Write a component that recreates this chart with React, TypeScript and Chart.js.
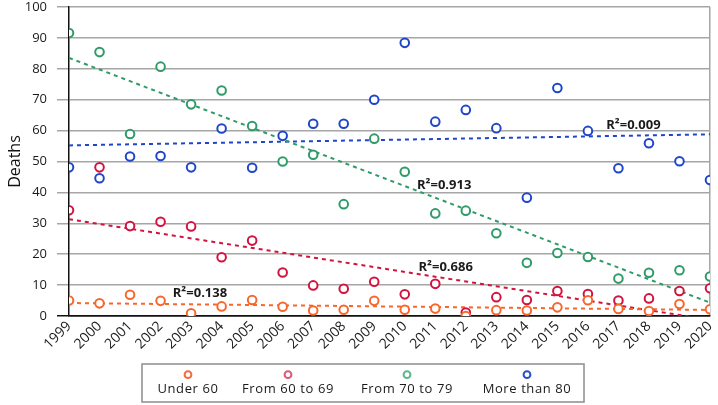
import React, { useEffect, useRef } from "react";
import { Chart, registerables } from "chart.js";

Chart.register(...registerables);

const years = [1999, 2000, 2001, 2002, 2003, 2004, 2005, 2006, 2007, 2008, 2009, 2010, 2011, 2012, 2013, 2014, 2015, 2016, 2017, 2018, 2019, 2020];
const under60 = [5.0, 4.1, 6.9, 4.9, 0.9, 3.1, 5.2, 3.0, 1.8, 2.0, 4.9, 2.0, 2.4, 0.0, 1.9, 1.8, 2.8, 5.1, 2.3, 1.6, 3.9, 2.2];
const from60to69 = [34.2, 48.1, 29.1, 30.5, 29.0, 19.0, 24.4, 14.1, 9.9, 8.8, 11.1, 7.0, 10.4, 1.1, 6.1, 5.2, 8.1, 7.1, 5.0, 5.7, 8.1, 9.0];
const from70to79 = [91.6, 85.4, 58.9, 80.7, 68.5, 73.0, 61.5, 50.0, 52.2, 36.2, 57.4, 46.7, 33.2, 34.1, 26.8, 17.2, 20.4, 19.1, 12.1, 14.0, 14.8, 12.8];
const moreThan80 = [48.1, 44.6, 51.6, 51.8, 48.1, 60.7, 48.0, 58.3, 62.2, 62.2, 70.0, 88.4, 62.9, 66.7, 60.8, 38.3, 73.8, 59.9, 47.8, 55.9, 50.1, 44.0];
const seriesNames = ["Under 60", "From 60 to 69", "From 70 to 79", "More than 80"];
const seriesValues = [under60, from60to69, from70to79, moreThan80];
const seriesColors = ["#f9662c", "#d3123f", "#2e9b68", "#1f46c9"];
const legendColors = ["#f66a3c", "#e0577a", "#5cb78d", "#2c4fcc"];
const r2Labels = ["R²=0.138", "R²=0.686", "R²=0.913", "R²=0.009"];
// label anchor in data coordinates (year, value): left edge, vertical middle
const r2Anchors = [
  { x: 2002.4, y: 7.4 },
  { x: 2010.45, y: 15.9 },
  { x: 2010.4, y: 42.4 },
  { x: 2016.6, y: 61.8 },
];
const yTicks = [0, 10, 20, 30, 40, 50, 60, 70, 80, 90, 100];

function fit(xs: number[], ys: number[]) {
  const n = xs.length;
  const mx = xs.reduce((a, b) => a + b, 0) / n;
  const my = ys.reduce((a, b) => a + b, 0) / n;
  let sxy = 0, sxx = 0;
  for (let i = 0; i < n; i++) {
    sxy += (xs[i] - mx) * (ys[i] - my);
    sxx += (xs[i] - mx) * (xs[i] - mx);
  }
  const b = sxy / sxx;
  return { a: my - b * mx, b };
}

const FONT = "'Open Sans', 'DejaVu Sans', sans-serif";

export default function App() {
  const ref = useRef<HTMLCanvasElement | null>(null);
  useEffect(() => {
    if (!ref.current) return;
    const first = years[0];
    const last = years[years.length - 1];
    const pointSets = seriesValues.map((vals, i) => ({
      type: "scatter" as const,
      label: seriesNames[i],
      data: vals.map((v, j) => ({ x: years[j], y: v })),
      borderColor: seriesColors[i],
      backgroundColor: "#ffffff",
      pointRadius: 4.3,
      pointBorderWidth: 2,
      pointHoverRadius: 4.3,
      order: 1,
    }));
    const trendSets = seriesValues.map((vals, i) => {
      const f = fit(years, vals);
      return {
        type: "line" as const,
        label: seriesNames[i] + " trend",
        data: [first, last].map((x) => ({ x, y: f.a + f.b * x })),
        borderColor: seriesColors[i],
        borderWidth: 2,
        borderDash: [4, 4],
        pointRadius: 0,
        fill: false,
        clip: 0,
        order: 2,
      };
    });

    const extras = {
      id: "extras",
      afterDatasetsDraw(chart: any) {
        const { ctx, scales } = chart;
        ctx.save();
        // R² labels
        ctx.font = `bold 13px ${FONT}`;
        ctx.fillStyle = "#1a1a1a";
        ctx.textAlign = "left";
        ctx.textBaseline = "middle";
        r2Labels.forEach((t, i) => {
          const p = r2Anchors[i];
          ctx.fillText(t, scales.x.getPixelForValue(p.x), scales.y.getPixelForValue(p.y));
        });
        // legend
        const lx = 142, ly = 364, lw = 442, lh = 38;
        ctx.strokeStyle = "#8c8c8c";
        ctx.lineWidth = 1.5;
        ctx.strokeRect(lx, ly, lw, lh);
        const centers = [188, 288, 407, 527];
        ctx.font = `13px ${FONT}`;
        ctx.textAlign = "center";
        seriesNames.forEach((n, i) => {
          ctx.beginPath();
          ctx.arc(centers[i], 374.7, 3.4, 0, Math.PI * 2);
          ctx.strokeStyle = legendColors[i];
          ctx.lineWidth = 2;
          ctx.stroke();
          ctx.fillStyle = "#1a1a1a";
          (ctx as any).letterSpacing = "0.6px";
          ctx.fillText(n, centers[i], 389.5);
        });
        ctx.restore();
      },
    };

    const chart = new Chart(ref.current, {
      type: "scatter",
      data: { datasets: [...trendSets, ...pointSets] as any },
      plugins: [extras],
      options: {
        animation: false,
        responsive: false,
        devicePixelRatio: 1,
        layout: { padding: { top: 7, right: 8, left: 0, bottom: 0 } },
        plugins: {
          legend: { display: false },
          tooltip: { enabled: false },
        },
        scales: {
          x: {
            type: "linear",
            min: first,
            max: last,
            afterFit: (s: any) => { s.height = 89; s.paddingLeft = 0; s.paddingRight = 0; },
            afterBuildTicks: (s: any) => { s.ticks = years.map((v) => ({ value: v })); },
            ticks: {
              autoSkip: false,
              minRotation: 45,
              maxRotation: 45,
              padding: 2,
              color: "#1a1a1a",
              font: { family: FONT, size: 14 },
              callback: (v: any) => String(v),
            },
            grid: {
              drawTicks: false,
              lineWidth: 1.5,
              color: (c: any) => (c.tick && c.tick.value === last ? "#a6a6a6" : "rgba(0,0,0,0)"),
            },
            border: { display: true, color: "#111111", width: 1.5 },
          },
          y: {
            min: 0,
            max: 100,
            afterFit: (s: any) => { s.width = 69; s.paddingTop = 0; s.paddingBottom = 0; },
            afterBuildTicks: (s: any) => { s.ticks = yTicks.map((v) => ({ value: v })); },
            ticks: {
              padding: 10,
              color: "#1a1a1a",
              font: { family: FONT, size: 13 },
            },
            title: {
              display: true,
              text: "Deaths",
              color: "#111111",
              font: { family: FONT, size: 16 },
              padding: { top: 6, bottom: 0 },
            },
            grid: {
              tickLength: 12,
              lineWidth: 1.5,
              color: (c: any) => (c.tick && c.tick.value === 0 ? "#111111" : "#a6a6a6"),
            },
            border: { display: true, color: "#111111", width: 1.5 },
          },
        },
      } as any,
    });
    return () => chart.destroy();
  }, []);
  return (
    <div style={{ position: "absolute", left: 0, top: 0, width: 718, height: 405, background: "#ffffff" }}>
      <canvas ref={ref} width={718} height={405} style={{ width: 718, height: 405, display: "block" }} />
    </div>
  );
}
